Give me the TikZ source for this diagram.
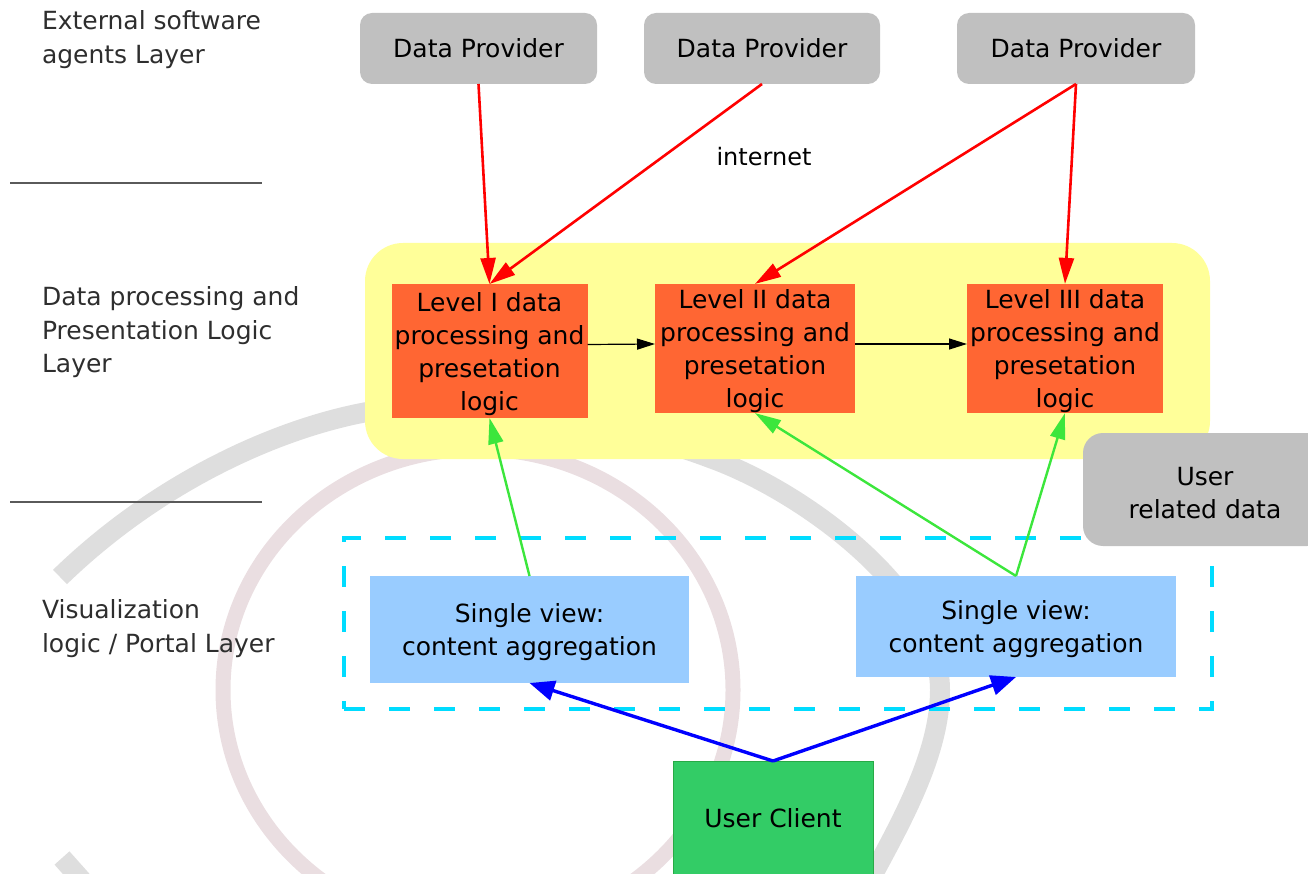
\documentclass[tikz,border=0pt]{standalone}
\usepackage{fontspec}
\setmainfont{DejaVu Sans}
\usetikzlibrary{arrows.meta}
\definecolor{dpgrey}{RGB}{192,192,192}
\definecolor{ylw}{RGB}{255,255,153}
\definecolor{orng}{RGB}{255,102,51}
\definecolor{lblue}{RGB}{153,204,255}
\definecolor{ucgreen}{RGB}{51,204,102}
\definecolor{ucborder}{RGB}{40,170,70}
\definecolor{arrgreen}{RGB}{60,230,60}
\definecolor{dcyan}{RGB}{0,220,255}
\definecolor{ringgrey}{RGB}{222,222,222}
\definecolor{ringpink}{RGB}{234,222,225}
\definecolor{sepgrey}{RGB}{90,90,90}
\newcommand\topstrut{\rule{0pt}{25pt}}
\begin{document}
\begin{tikzpicture}[x=1pt,y=-1pt,
  every node/.style={inner sep=0pt, outer sep=0pt},
  txt/.style={font=\fontsize{25}{33}\selectfont, align=center},
  lbl/.style={font=\fontsize{25}{33.5}\selectfont, align=left, text=black!82, anchor=west},
  provider/.style={txt, fill=dpgrey, rounded corners=12pt, minimum width=237pt, minimum height=71pt},
  level/.style={txt, fill=orng},
  view/.style={txt, fill=lblue},
  redarr/.style={draw=red, line width=2.6pt, -{Triangle[length=26pt, width=15pt]}},
  grnarr/.style={draw=arrgreen, line width=2.4pt, -{Triangle[length=26pt, width=15pt]}},
  bluarr/.style={draw=blue, line width=3.4pt, -{Triangle[length=25pt, width=20pt]}},
  blkarr/.style={draw=black, line width=1.2pt, -{Triangle[length=18pt, width=11pt]}},
  sepline/.style={draw=sepgrey, line width=1.4pt}
]
\useasboundingbox (0,0) rectangle (1308,874);
\clip (0,0) rectangle (1308,874);

% background watermark rings
\draw[ringpink, line width=15pt] (478,690) ellipse [x radius=255, y radius=241];
\draw[ringgrey, line width=20pt] (60,577) .. controls (160,480) and (280,428) .. (367,412)
  .. controls (450,392) and (630,427) .. (710,458)
  .. controls (800,490) and (940,590) .. (940,690)
  .. controls (940,750) and (905,815) .. (877,867) -- (863,893);
\draw[ringgrey, line width=20pt] (62,858) -- (95,895);

% layer labels and separators
\node[lbl] (lab1) at (42,39.5) {External software\\agents Layer};
\node[lbl] (lab2) at (42,332.5) {Data processing and\\Presentation Logic\\Layer};
\node[lbl] (lab3) at (42,628.5) {Visualization\\logic / Portal Layer};
\draw[sepline] (10,183) -- (262,183);
\draw[sepline] (10,502) -- (262,502);

% containers
\node[fill=ylw, rounded corners=38pt, minimum width=845pt, minimum height=216pt] (procbg) at (787.5,351) {};
\node[draw=dcyan, dash pattern=on 21pt off 24pt, line width=3.5pt, minimum width=868pt, minimum height=171pt] (portal) at (778,623.5) {};

% providers
\node[provider] (dp1) at (478.5,48.5) {Data Provider};
\node[provider, minimum width=236pt] (dp2) at (762,48.5) {Data Provider};
\node[provider, minimum width=238pt] (dp3) at (1076,48.5) {Data Provider};
\node[font=\fontsize{24}{30}\selectfont] (inet) at (764,157) {internet};

% processing levels
\node[level, minimum width=196pt, minimum height=134pt] (l1) at (489.5,351) {\topstrut Level I data\\processing and\\presetation\\logic};
\node[level, minimum width=200pt, minimum height=129pt] (l2) at (755,348.5) {\topstrut Level II data\\processing and\\presetation\\logic};
\node[level, minimum width=196pt, minimum height=129pt] (l3) at (1065,348.5) {\topstrut Level III data\\processing and\\presetation\\logic};

% views and client
\node[view, minimum width=319pt, minimum height=107pt] (sv1) at (529.5,629.5) {\topstrut Single view:\\content aggregation};
\node[view, minimum width=320pt, minimum height=101pt] (sv2) at (1016,626.5) {\topstrut Single view:\\content aggregation};
\node[txt, fill=ucgreen, draw=ucborder, line width=1pt, minimum width=200pt, minimum height=114pt] (uc) at (773,818) {User Client};
\node[txt, fill=dpgrey, rounded corners=20pt, minimum width=244pt, minimum height=113pt] (urd) at (1205,489.5) {\topstrut User\\related data};

% connectors
\draw[redarr] (dp1.south) -- (l1.north);
\draw[redarr] (dp2.south) -- (l1.north);
\draw[redarr] (dp3.south) -- (l2.north);
\draw[redarr] (dp3.south) -- (l3.north);
\draw[blkarr] ([yshift=6.5pt]l1.east) -- ([yshift=4.5pt]l2.west);
\draw[blkarr] ([yshift=4.5pt]l2.east) -- ([yshift=4.5pt]l3.west);
\draw[grnarr] (sv1.north) -- (l1.south);
\draw[grnarr] (sv2.north) -- (l2.south);
\draw[grnarr] (sv2.north) -- (l3.south);
\draw[bluarr] (uc.north) -- (sv1.south);
\draw[bluarr] (uc.north) -- (sv2.south);
\end{tikzpicture}
\end{document}
